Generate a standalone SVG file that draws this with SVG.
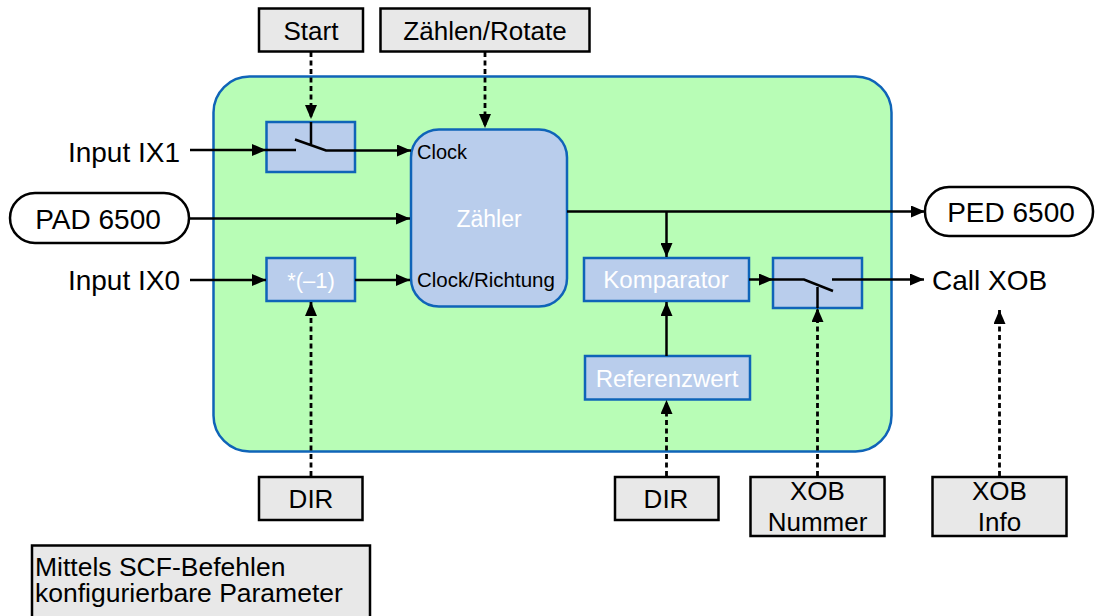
<svg xmlns="http://www.w3.org/2000/svg" width="1101" height="616" viewBox="0 0 1101 616">
<defs>
<style>
.t{font-family:"Liberation Sans",Arial,sans-serif;fill:#000}
.w{font-family:"Liberation Sans",Arial,sans-serif;fill:#fff}
.c{text-anchor:middle}
.par{fill:#e8e8e8;stroke:#000;stroke-width:2.5}
.blk{fill:#b9cdec;stroke:#0f64b8;stroke-width:2.5}
.pill{fill:#fff;stroke:#000;stroke-width:2.5}
.ln{fill:none;stroke:#000;stroke-width:2.5}
.da{fill:none;stroke:#000;stroke-width:2.8;stroke-dasharray:5 3.5}
.sw{fill:none;stroke:#000;stroke-width:2.5}
</style>
<marker id="ah" markerUnits="userSpaceOnUse" markerWidth="15" markerHeight="12" refX="14" refY="6" orient="auto">
<path d="M0,0 L14,6 L0,12 z" fill="#000"/>
</marker>
</defs>
<rect width="1101" height="616" fill="#fff"/>
<g id="main">
<rect x="213.5" y="76.5" width="678" height="375" rx="36" fill="#b8fdb6" stroke="#0f64b8" stroke-width="2.5"/>
</g>
<g id="start"><rect class="par" x="259" y="8.5" width="104" height="43"/><text class="t c" x="311" y="40" font-size="26">Start</text></g>
<g id="zaehlen"><rect class="par" x="380.5" y="8.5" width="209" height="43"/><text class="t c" x="485" y="40" font-size="26">Zählen/Rotate</text></g>
<g id="ix1"><text class="t" x="180" y="162" font-size="28" text-anchor="end">Input IX1</text></g>
<g id="ix0"><text class="t" x="180" y="290" font-size="28" text-anchor="end">Input IX0</text></g>
<g id="pad"><rect class="pill" x="10" y="193" width="179" height="50" rx="25"/><text class="t c" x="98" y="229" font-size="28">PAD 6500</text></g>
<g id="ped"><rect class="pill" x="925" y="187" width="168" height="49" rx="24"/><text class="t c" x="1011" y="222" font-size="28">PED 6500</text></g>
<g id="callxob"><text class="t" x="932" y="290" font-size="28">Call XOB</text></g>
<g id="switch1">
<rect class="blk" x="266.5" y="122" width="88.5" height="50"/>
<path class="sw" d="M266,150 H296 M295,139.5 L326,150.5 H355 M311,122 V144"/>
</g>
<g id="neg"><rect class="blk" x="266.5" y="258" width="88.5" height="43"/><text class="w c" x="311" y="288" font-size="22">*(–1)</text></g>
<g id="zaehler">
<rect class="blk" x="411" y="129.5" width="156" height="177" rx="28"/>
<text class="t" x="417" y="159" font-size="20">Clock</text>
<text class="t" x="417" y="287" font-size="20.5">Clock/Richtung</text>
<text class="w c" x="489" y="227" font-size="23">Zähler</text>
</g>
<g id="komp"><rect class="blk" x="584" y="258" width="165" height="43"/><text class="w c" x="666" y="288" font-size="24">Komparator</text></g>
<g id="ref"><rect class="blk" x="585" y="356" width="165" height="43.5"/><text class="w c" x="667" y="387" font-size="24">Referenzwert</text></g>
<g id="switch2">
<rect class="blk" x="773" y="258" width="89" height="50"/>
<path class="sw" d="M773,279.5 H804 L833,291 M817.5,287 V308"/>
</g>
<g id="dir1"><rect class="par" x="259" y="477" width="103.5" height="43"/><text class="t c" x="311" y="508" font-size="26">DIR</text></g>
<g id="dir2"><rect class="par" x="615" y="477" width="103.5" height="43"/><text class="t c" x="666" y="508" font-size="26">DIR</text></g>
<g id="xobnr"><rect class="par" x="750.5" y="477" width="134" height="59"/><text class="t c" x="817.5" y="500" font-size="26">XOB</text><text class="t c" x="817.5" y="531" font-size="26">Nummer</text></g>
<g id="xobinfo"><rect class="par" x="932.5" y="477" width="134" height="59"/><text class="t c" x="999.5" y="500" font-size="26">XOB</text><text class="t c" x="999.5" y="531" font-size="26">Info</text></g>
<g id="legend"><rect class="par" x="32" y="545.5" width="338" height="80"/><text class="t" font-size="26.5"><tspan x="35" y="576">Mittels SCF-Befehlen</tspan><tspan x="35" y="602">konfigurierbare Parameter</tspan></text></g>
<g id="connectors">
<line class="ln" x1="190" y1="150" x2="266" y2="150" marker-end="url(#ah)"/>
<line class="ln" x1="355" y1="150.5" x2="411" y2="150.5" marker-end="url(#ah)"/>
<line class="ln" x1="189" y1="218.5" x2="410" y2="218.5" marker-end="url(#ah)"/>
<line class="ln" x1="190" y1="280" x2="266" y2="280" marker-end="url(#ah)"/>
<line class="ln" x1="355" y1="280" x2="410" y2="280" marker-end="url(#ah)"/>
<line class="ln" x1="567" y1="211.5" x2="925" y2="211.5" marker-end="url(#ah)"/>
<line class="ln" x1="666.5" y1="211.5" x2="666.5" y2="257" marker-end="url(#ah)"/>
<line class="ln" x1="749" y1="279.5" x2="773" y2="279.5" marker-end="url(#ah)"/>
<line class="ln" x1="832" y1="279.5" x2="924" y2="279.5" marker-end="url(#ah)"/>
<line class="ln" x1="666.5" y1="356" x2="666.5" y2="302" marker-end="url(#ah)"/>
<line class="da" x1="311" y1="52" x2="311" y2="119" marker-end="url(#ah)"/>
<line class="da" x1="485" y1="52" x2="485" y2="128" marker-end="url(#ah)"/>
<line class="da" x1="311" y1="476" x2="311" y2="302" marker-end="url(#ah)"/>
<line class="da" x1="666.5" y1="476" x2="666.5" y2="400" marker-end="url(#ah)"/>
<line class="da" x1="817.5" y1="476" x2="817.5" y2="308" marker-end="url(#ah)"/>
<line class="da" x1="999.5" y1="476" x2="999.5" y2="310" marker-end="url(#ah)"/>
</g>
</svg>
